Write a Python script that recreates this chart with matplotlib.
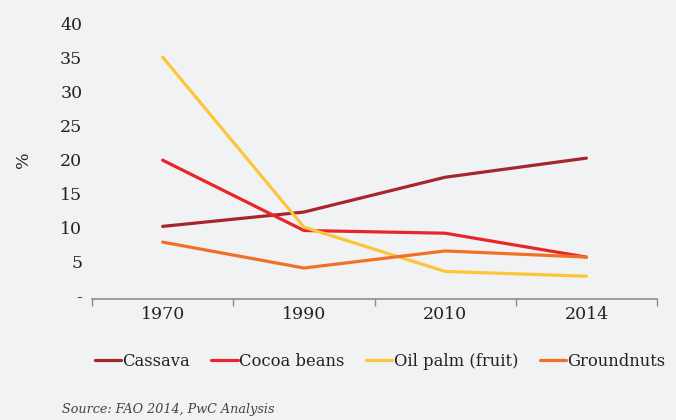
"""Share of crop production by commodity, 1970-2014."""

import matplotlib

matplotlib.use("Agg")
import matplotlib.pyplot as plt
from matplotlib.ticker import FixedLocator, NullFormatter

years = ["1970", "1990", "2010", "2014"]
cassava = [10.2, 12.3, 17.4, 20.2]
cocoa_beans = [19.9, 9.6, 9.2, 5.7]
oil_palm = [35.0, 10.1, 3.6, 2.9]
groundnuts = [7.9, 4.1, 6.6, 5.7]

series_names = ["Cassava", "Cocoa beans", "Oil palm (fruit)", "Groundnuts"]
series_colors = ["#a6262c", "#e8262a", "#fcc53a", "#f07125"]

y_ticks = [0, 5, 10, 15, 20, 25, 30, 35, 40]
y_labels = ["-", "5", "10", "15", "20", "25", "30", "35", "40"]

BG = "#f1f2f4"
TEXT = "#222222"
FONT = "DejaVu Serif"

plt.rcParams["font.family"] = FONT

fig = plt.figure(figsize=(6.76, 4.2), dpi=100, facecolor=BG)
ax = fig.add_axes([92 / 676, 1 - 296 / 420, (657 - 92) / 676, (296 - 23) / 420])
ax.set_facecolor(BG)

x = list(range(len(years)))
for vals, name, col in zip(
    [cassava, cocoa_beans, oil_palm, groundnuts], series_names, series_colors
):
    ax.plot(x, vals, color=col, lw=2.3, label=name, solid_capstyle="round")

ax.set_xlim(-0.5, len(years) - 0.5)
ax.set_ylim(0, 40)

# category axis: tick marks between categories, labels on the centres
ax.xaxis.set_major_locator(FixedLocator([i - 0.5 for i in range(len(years) + 1)]))
ax.xaxis.set_major_formatter(NullFormatter())
ax.set_xticks(x, minor=True)
ax.set_xticklabels(years, minor=True)
ax.tick_params(axis="x", which="major", length=5, width=1, color="#8c8c8c", direction="out")
ax.tick_params(axis="x", which="minor", length=0, pad=5, labelsize=12.5, labelcolor=TEXT)

ax.set_yticks(y_ticks)
ax.set_yticklabels(y_labels)
ax.tick_params(axis="y", length=0, pad=7, labelsize=12.5, labelcolor=TEXT)
ax.set_ylabel("%", fontsize=12.5, color=TEXT, labelpad=20)

for side in ["top", "right", "left"]:
    ax.spines[side].set_visible(False)
ax.spines["bottom"].set_color("#8c8c8c")
ax.spines["bottom"].set_linewidth(1.2)
ax.spines["bottom"].set_position(("outward", 2))

leg = fig.legend(
    loc="center",
    bbox_to_anchor=(380 / 676, 1 - 361 / 420),
    ncol=4,
    frameon=False,
    fontsize=11.8,
    handlelength=1.6,
    handletextpad=0.1,
    columnspacing=1.3,
)
for t in leg.get_texts():
    t.set_color(TEXT)

fig.text(
    62 / 676,
    1 - 410 / 420,
    "Source: FAO 2014, PwC Analysis",
    fontsize=9.2,
    style="italic",
    color="#444444",
    va="center",
)

fig.savefig("out.png", dpi=100, facecolor=BG)
